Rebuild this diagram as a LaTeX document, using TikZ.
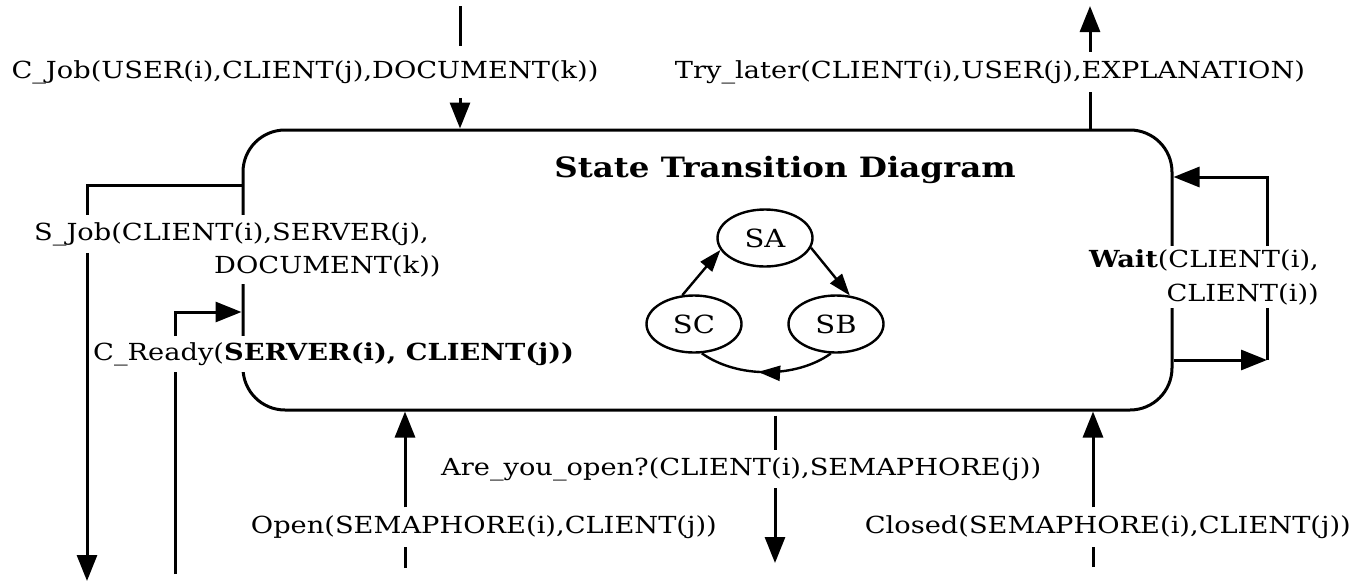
\documentclass[tikz,border=0pt]{standalone}
\usepackage{fontspec}
\setmainfont[FakeStretch=1.16]{DejaVu Serif}
\usetikzlibrary{arrows.meta,shapes.geometric,decorations.markings}
\begin{document}
\begin{tikzpicture}[x=1pt,y=-1pt,
  conn/.style={line width=3pt},
  arr/.style={line width=3pt,-{Triangle[length=26pt,width=20pt]}},
  sarr/.style={line width=2.4pt,-{Triangle[length=22pt,width=15pt]}},
  lbl/.style={font=\fontsize{23.5}{34}\selectfont, fill=white, inner xsep=1pt, inner ysep=#1},
  lbl/.default=7pt,
  st/.style={ellipse, draw, line width=2.4pt, minimum width=95pt, minimum height=57pt, inner sep=0pt, font=\fontsize{25}{28}\selectfont},
  frame/.style={draw, line width=3pt, rounded corners=42pt, inner sep=0pt}
]
\useasboundingbox (0,0) rectangle (1361,584);
% main frame
\node[frame, minimum width=929pt, minimum height=280pt] (main) at (707.5,270) {};
\node[font=\fontsize{28}{32}\selectfont\bfseries] (title) at (785,170) {State Transition Diagram};
% states
\node[st] (SA) at (765,238) {SA};
\node[st] (SB) at (836,324) {SB};
\node[st] (SC) at (694,324) {SC};
\draw[sarr] (SC.112) -- (SA.195);
\draw[sarr] (SA.-12) -- (SB.64);
\draw[line width=2.4pt, postaction={decorate},
  decoration={markings, mark=at position 0.56 with {\arrow{Triangle[length=22pt,width=15pt]}}}]
  (SB.-100) .. controls +(-35,25) and +(35,25) .. (SC.-75);
% labels
\node[lbl=14pt] (cjob) at (305,72) {C\_Job(USER(i),CLIENT(j),DOCUMENT(k))};
\node[lbl=8.5pt] (try) at (990,72) {Try\_later(CLIENT(i),USER(j),EXPLANATION)};
\node[lbl=7pt, anchor=west] (sjob1) at (33,234) {S\_Job(CLIENT(i),SERVER(j),};
\node[lbl=7pt, anchor=west] (sjob2) at (213,266) {DOCUMENT(k))};
\node[lbl=6pt, anchor=west] (cready) at (92,354) {C\_Ready(\textbf{SERVER(i), CLIENT(j))}};
\node[lbl=3pt, anchor=east, align=right] (wait) at (1320,277) {\textbf{Wait}(CLIENT(i),\\CLIENT(i))};
\node[lbl=7.5pt, anchor=west] (ay) at (440,469) {Are\_you\_open?(CLIENT(i),SEMAPHORE(j))};
\node[lbl=8pt, anchor=east] (open) at (718,527) {Open(SEMAPHORE(i),CLIENT(j))};
\node[lbl=8pt, anchor=east] (closed) at (1352,527) {Closed(SEMAPHORE(i),CLIENT(j))};
% C_Job
\coordinate (cjtop) at (460,6);
\draw[conn] (cjtop) -- (cjtop |- cjob.north);
\draw[arr] (cjtop |- cjob.south) -- (cjtop |- main.north);
% Try_later
\coordinate (trytip) at (1090,6);
\draw[conn] (trytip |- main.north) -- (trytip |- try.south);
\draw[arr] (trytip |- try.north) -- (trytip);
% S_Job
\coordinate (sjy) at (0,185);
\coordinate (sjcorner) at (87,185);
\coordinate (sjtip) at (87,581);
\draw[conn] (main.west |- sjy) -- (sjcorner) -- (sjcorner |- sjob1.north);
\draw[arr] (sjcorner |- sjob1.south) -- (sjtip);
% C_Ready
\coordinate (crbot) at (175,574);
\coordinate (cry) at (0,312);
\draw[conn] (crbot) -- (crbot |- cready.south);
\draw[arr] (crbot |- cready.north) |- (main.west |- cry);
% Wait loop
\coordinate (wx) at (1267,0);
\coordinate (wlow) at (0,360);
\coordinate (whigh) at (0,177);
\draw[arr] (main.east |- wlow) -- (wx |- wlow);
\draw[conn] (wx |- wlow) -- (wx |- wait.south);
\draw[arr] (wx |- wait.north) |- (main.east |- whigh);
% Open
\coordinate (opbot) at (405,568);
\draw[conn] (opbot) -- (opbot |- open.south);
\draw[arr] (opbot |- open.north) -- (opbot |- main.south);
% Are_you_open
\coordinate (aytip) at (775,563);
\draw[conn, shorten <=4pt] (aytip |- main.south) -- (aytip |- ay.north);
\draw[arr] (aytip |- ay.south) -- (aytip);
% Closed
\coordinate (clbot) at (1093,567);
\draw[conn] (clbot) -- (clbot |- closed.south);
\draw[arr] (clbot |- closed.north) -- (clbot |- main.south);
\end{tikzpicture}
\end{document}
